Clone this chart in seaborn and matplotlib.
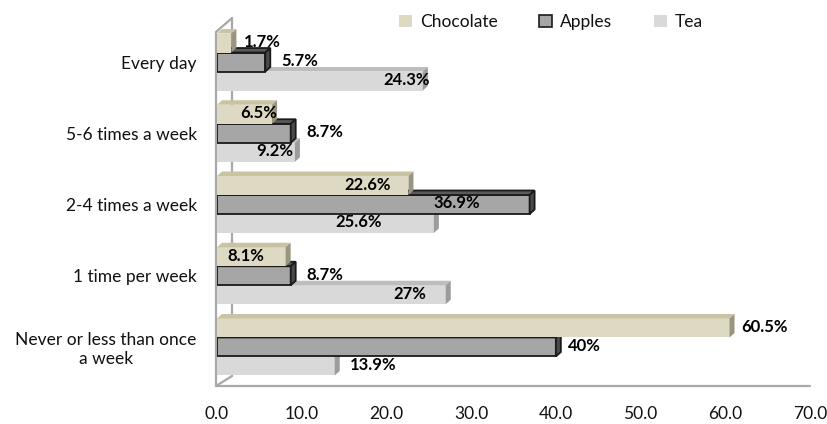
import numpy as np
import pandas as pd
import matplotlib
matplotlib.use("Agg")
import matplotlib.pyplot as plt
import seaborn as sns
from matplotlib.patches import Polygon, Patch
from matplotlib.lines import Line2D

# ---------------- data ----------------
categories = ["Every day", "5-6 times a week", "2-4 times a week",
              "1 time per week", "Never or less than once\na week"]
series = ["Chocolate", "Apples", "Tea"]
chocolate = [1.7, 6.5, 22.6, 8.1, 60.5]
apples = [5.7, 8.7, 36.9, 8.7, 40.0]
tea = [24.3, 9.2, 25.6, 27.0, 13.9]
xticks = [0, 10, 20, 30, 40, 50, 60, 70]
xtick_labels = ["0.0", "10.0", "20.0", "30.0", "40.0", "50.0", "60.0", "70.0"]

# ---------------- style / layout ----------------
front_colors = {"Chocolate": "#ddd9c3", "Apples": "#a6a6a6", "Tea": "#d9d9d9"}
top_colors = {"Chocolate": "#c9c3a3", "Apples": "#5a5a5a", "Tea": "#bdbdbd"}
side_colors = {"Chocolate": "#9a9580", "Apples": "#4a4a4a", "Tea": "#9c9c9c"}
edge_colors = {"Chocolate": None, "Apples": "#1a1a1a", "Tea": None}
# data label placement (Excel 3D style), pixels relative to bar end
label_ha = {
    "Chocolate": ["left", "right", "right", "right", "left"],
    "Apples": ["left", "left", "right", "left", "left"],
    "Tea": ["right", "right", "right", "right", "left"],
}
label_dx = {
    "Chocolate": [12, 5, -18, -21, 12],
    "Apples": [16, 16, -50, 16, 12],
    "Tea": [7, -2, -52, -19, 15],
}

W, H = 827, 424
L_PX, R_PX, T_PX, B_PX = 217, 810, 26.4, 382.6
DEPTH_X, DEPTH_Y = 5.0, 4.5

sns.set_theme(style="white")
plt.rcParams["font.family"] = ["Lato", "DejaVu Sans"]

df = pd.DataFrame({
    "freq": categories * 3,
    "food": [s for s in series for _ in categories],
    "value": chocolate + apples + tea,
})

fig = plt.figure(figsize=(W / 100, H / 100), dpi=100)
ax = fig.add_axes([L_PX / W, 1 - B_PX / H, (R_PX - L_PX) / W, (B_PX - T_PX) / H])

sns.barplot(data=df, y="freq", x="value", hue="food", orient="h",
            order=categories, hue_order=series,
            palette=[front_colors[s] for s in series], saturation=1,
            width=0.8, legend=False, ax=ax)

ax.set_xlim(0, 70)
ax.set_ylim(4.5, -0.5)
for sp in ax.spines.values():
    sp.set_visible(False)
ax.set_xlabel("")
ax.set_ylabel("")
ax.set_xticks(xticks)
ax.set_xticklabels(xtick_labels)
ax.tick_params(axis="x", length=0, pad=17, labelsize=12.5, labelcolor="#111111")
ax.tick_params(axis="y", length=0, pad=14.5, labelsize=12.5, labelcolor="#111111")
for t in ax.get_yticklabels():
    t.set_multialignment("center")

# 3D depth in data units
sx = ax.bbox.width / 70.0
sy = ax.bbox.height / 5.0
ddx = DEPTH_X / sx
ddy = DEPTH_Y / sy

zorders = {"Chocolate": 4, "Apples": 3, "Tea": 2}
for i, s in enumerate(series):
    cont = ax.containers[i]
    z = zorders[s]
    ec = edge_colors[s]
    lw = 1.3 if ec else 0
    for j, bar in enumerate(cont):
        x0, y0 = bar.get_x(), bar.get_y()
        w, h = bar.get_width(), bar.get_height()
        bar.set_zorder(z)
        if ec:
            bar.set_edgecolor(ec)
            bar.set_linewidth(lw)
        else:
            bar.set_linewidth(0)
        top = Polygon([(x0, y0), (x0 + w, y0), (x0 + w + ddx, y0 - ddy), (x0 + ddx, y0 - ddy)],
                      closed=True, facecolor=top_colors[s],
                      edgecolor=ec if ec else "none", linewidth=lw, zorder=z)
        side = Polygon([(x0 + w, y0), (x0 + w, y0 + h), (x0 + w + ddx, y0 + h - ddy), (x0 + w + ddx, y0 - ddy)],
                       closed=True, facecolor=side_colors[s],
                       edgecolor=ec if ec else "none", linewidth=lw, zorder=z)
        ax.add_patch(top)
        ax.add_patch(side)
        ax.annotate(f"{bar.get_width():g}%", xy=(x0 + w, y0 + h / 2),
                    xytext=(label_dx[s][j], 1), textcoords="offset pixels",
                    ha=label_ha[s][j], va="center", fontsize=12,
                    fontweight="bold", color="#000000", zorder=10)

# 3D frame (walls / floor) in axes fraction
def px2ax(px, py):
    return ((px - L_PX) / (R_PX - L_PX), (B_PX - py) / (B_PX - T_PX))

frame_lines = [
    ([(216, 32), (216, 386)], 1),
    ([(216, 32), (232, 18)], 1),
    ([(232, 18), (232, 376)], 0.5),
    ([(216, 386), (232, 376)], 1),
    ([(216, 386), (810, 386)], 1),
]
for pts, z in frame_lines:
    a = [px2ax(*p) for p in pts]
    ax.add_line(Line2D([a[0][0], a[1][0]], [a[0][1], a[1][1]], transform=ax.transAxes,
                       color="#a8a8a8", linewidth=1.6, clip_on=False, zorder=z))

handles = [Patch(facecolor=front_colors[s], edgecolor=edge_colors[s] or front_colors[s],
                 linewidth=1.2 if edge_colors[s] else 0, label=s) for s in series]
fig.legend(handles=handles, loc="center", bbox_to_anchor=(551 / W, 1 - 22 / H),
           ncol=3, frameon=False, fontsize=12.5, handlelength=0.75, handleheight=0.75,
           handletextpad=0.45, columnspacing=2.4, labelcolor="#111111")

fig.savefig("out.png", dpi=100)
